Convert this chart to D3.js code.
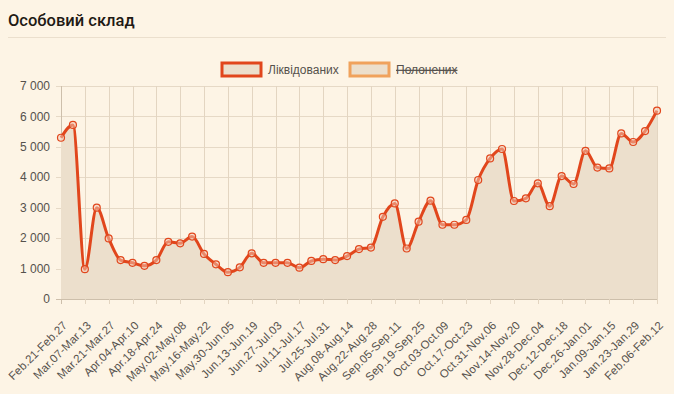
<!DOCTYPE html>
<html>
<head>
<meta charset="utf-8">
<script src="https://cdn.jsdelivr.net/npm/d3@7"></script>
<style>
  body { margin: 0; background: #fdf4e5; }
  svg { display: block; }
</style>
</head>
<body>
<svg id="chart" width="674" height="394"></svg>
<script>
// weekly periods, one per point
var weeks = [
  "Feb.21-Feb.27","Feb.28-Mar.06","Mar.07-Mar.13","Mar.14-Mar.20","Mar.21-Mar.27","Mar.28-Apr.03",
  "Apr.04-Apr.10","Apr.11-Apr.17","Apr.18-Apr.24","Apr.25-May.01","May.02-May.08","May.09-May.15",
  "May.16-May.22","May.23-May.29","May.30-Jun.05","Jun.06-Jun.12","Jun.13-Jun.19","Jun.20-Jun.26",
  "Jun.27-Jul.03","Jul.04-Jul.10","Jul.11-Jul.17","Jul.18-Jul.24","Jul.25-Jul.31","Aug.01-Aug.07",
  "Aug.08-Aug.14","Aug.15-Aug.21","Aug.22-Aug.28","Aug.29-Sep.04","Sep.05-Sep.11","Sep.12-Sep.18",
  "Sep.19-Sep.25","Sep.26-Oct.02","Oct.03-Oct.09","Oct.10-Oct.16","Oct.17-Oct.23","Oct.24-Oct.30",
  "Oct.31-Nov.06","Nov.07-Nov.13","Nov.14-Nov.20","Nov.21-Nov.27","Nov.28-Dec.04","Dec.05-Dec.11",
  "Dec.12-Dec.18","Dec.19-Dec.25","Dec.26-Jan.01","Jan.02-Jan.08","Jan.09-Jan.15","Jan.16-Jan.22",
  "Jan.23-Jan.29","Jan.30-Feb.05","Feb.06-Feb.12"
];
var liquidated = [
  5300, 5720, 980, 3000, 1990, 1280, 1190, 1090, 1280, 1880, 1830, 2050,
  1480, 1140, 880, 1040, 1500, 1190, 1190, 1190, 1030, 1250, 1310, 1280,
  1410, 1640, 1690, 2700, 3140, 1660, 2540, 3230, 2440, 2440, 2600, 3910,
  4620, 4930, 3220, 3310, 3800, 3050, 4040, 3780, 4870, 4320, 4290, 5440,
  5160, 5520, 6190
];
var seriesNames = ["Ліквідованих", "Полонених"];
var yTicks = [0, 1000, 2000, 3000, 4000, 5000, 6000, 7000];

var svg = d3.select("#chart");
var plotLeft = 61, plotRight = 657, plotTop = 86, plotBottom = 299;

var fmt = d3.formatLocale({decimal: ",", thousands: " ", grouping: [3], currency: ["", ""]}).format(",d");

// title
svg.append("text")
  .attr("x", 8).attr("y", 26)
  .attr("font-family", "Roboto, sans-serif")
  .attr("font-size", 16.5)
  .attr("font-weight", 500)
  .attr("fill", "#1f1a14")
  .text("Особовий склад");

svg.append("line")
  .attr("x1", 8).attr("x2", 666)
  .attr("y1", 37.5).attr("y2", 37.5)
  .attr("stroke", "#ebdfcd");

var x = d3.scalePoint().domain(weeks).range([plotLeft, plotRight]);
var y = d3.scaleLinear().domain([0, 7000]).range([plotBottom, plotTop]);

var labelWeeks = weeks.filter(function(d, i) { return i % 2 == 0; });

// grid
var grid = svg.append("g");
grid.selectAll("line.h").data(yTicks).enter()
  .append("line")
  .attr("class", "h")
  .attr("x1", plotLeft - 5).attr("x2", plotRight)
  .attr("y1", function(d) { return Math.round(y(d)) + 0.5; })
  .attr("y2", function(d) { return Math.round(y(d)) + 0.5; })
  .attr("stroke", function(d) { return d == 0 ? "#cdbfab" : "#e6d9c6"; });

grid.selectAll("line.v").data(labelWeeks).enter()
  .append("line")
  .attr("class", "v")
  .attr("x1", function(d) { return Math.round(x(d)) + 0.5; })
  .attr("x2", function(d) { return Math.round(x(d)) + 0.5; })
  .attr("y1", plotTop).attr("y2", plotBottom + 5)
  .attr("stroke", function(d, i) { return i == 0 ? "#cdbfab" : "#e3d5c1"; });

// area + line
var area = d3.area()
  .x(function(d, i) { return x(weeks[i]); })
  .y0(y(0))
  .y1(function(d) { return y(d); })
  .curve(d3.curveMonotoneX);

var line = d3.line()
  .x(function(d, i) { return x(weeks[i]); })
  .y(function(d) { return y(d); })
  .curve(d3.curveMonotoneX);

svg.append("path")
  .datum(liquidated)
  .attr("d", area)
  .attr("fill", "#ecdfcc");

svg.append("path")
  .datum(liquidated)
  .attr("d", line)
  .attr("fill", "none")
  .attr("stroke", "#e1461c")
  .attr("stroke-width", 3)
  .attr("stroke-linejoin", "round");

svg.selectAll("circle.pt").data(liquidated).enter()
  .append("circle")
  .attr("class", "pt")
  .attr("cx", function(d, i) { return x(weeks[i]); })
  .attr("cy", function(d) { return y(d); })
  .attr("r", 3.5)
  .attr("fill", "#f3c9b6")
  .attr("fill-opacity", 0.5)
  .attr("stroke", "#e1461c")
  .attr("stroke-width", 1.2);

// y labels
svg.selectAll("text.yl").data(yTicks).enter()
  .append("text")
  .attr("class", "yl")
  .attr("x", 50)
  .attr("y", function(d) { return y(d); })
  .attr("dy", "0.35em")
  .attr("text-anchor", "end")
  .attr("font-family", "Liberation Sans, Arial, sans-serif")
  .attr("font-size", 12)
  .attr("fill", "#55514c")
  .text(function(d) { return fmt(d); });

// x labels
svg.selectAll("text.xl").data(labelWeeks).enter()
  .append("text")
  .attr("class", "xl")
  .attr("transform", function(d) { return "translate(" + (x(d) + 7) + "," + 326 + ") rotate(-45)"; })
  .attr("text-anchor", "end")
  .attr("font-family", "Liberation Sans, Arial, sans-serif")
  .attr("font-size", 11.5)
  .attr("letter-spacing", 0.15)
  .attr("fill", "#55514c")
  .text(function(d) { return d; });

// legend
var legendColors = ["#e1461c", "#f0a25c"];
var legendX = [221, 349];
var lg = svg.append("g");
lg.selectAll("rect").data(seriesNames).enter()
  .append("rect")
  .attr("x", function(d, i) { return legendX[i] + 1; })
  .attr("y", 63)
  .attr("width", 39)
  .attr("height", 13)
  .attr("fill", "#ecdfcc")
  .attr("stroke", function(d, i) { return legendColors[i]; })
  .attr("stroke-width", 3);
lg.selectAll("text").data(seriesNames).enter()
  .append("text")
  .attr("x", function(d, i) { return legendX[i] + 47; })
  .attr("y", 74)
  .attr("font-family", "Liberation Sans, Arial, sans-serif")
  .attr("font-size", 12)
  .attr("fill", "#55514c")
  .attr("text-decoration", function(d, i) { return i == 1 ? "line-through" : null; })
  .text(function(d) { return d; });
</script>
</body>
</html>
